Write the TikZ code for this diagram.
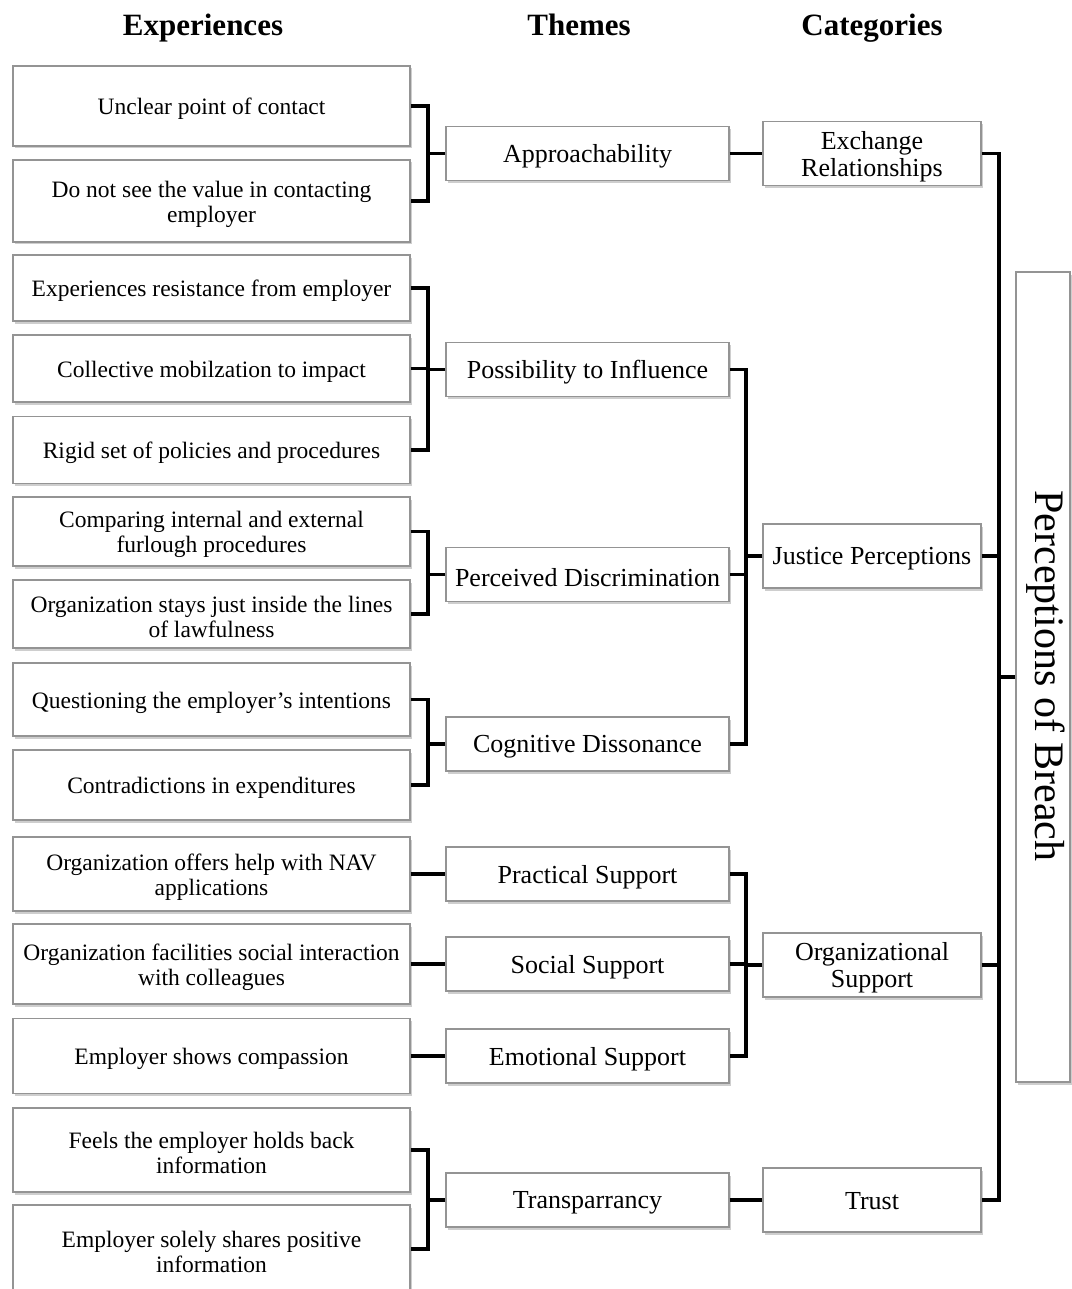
\documentclass[tikz,border=0pt]{standalone}
\usepackage{fontspec}
\setmainfont{Liberation Serif}
\usetikzlibrary{shadows}
\begin{document}
\begin{tikzpicture}[x=1pt,y=-1pt,
  box/.style={draw=black!42, line width=1.3pt, fill=white, inner sep=0pt,
    drop shadow={fill=black!35, opacity=0.55, shadow xshift=1.5pt, shadow yshift=-2.5pt}},
  expbox/.style={box, minimum width=397pt},
  thbox/.style={box, minimum width=283pt, minimum height=54pt},
  catbox/.style={box, minimum width=218pt, minimum height=64pt},
  txt/.style={inner sep=0pt, align=center, yshift=-3pt},
  exptxt/.style={txt, font=\fontsize{23.5}{25}\selectfont},
  thtxt/.style={txt, font=\fontsize{26}{27}\selectfont},
  hdr/.style={anchor=base, font=\fontsize{31}{32}\selectfont\bfseries},
  conn/.style={draw=black, line width=3.2pt}]
\useasboundingbox[fill=white] (0,0) rectangle (1071,1289);

% headers
\node[hdr] (h1) at (203,36) {Experiences};
\node[hdr] (h2) at (579,36) {Themes};
\node[hdr] (h3) at (872,36) {Categories};

% experiences
\node[expbox, minimum height=80pt] (e1) at (211.5,106) {};
\node[exptxt] (e1t) at (e1) {Unclear point of contact};
\node[expbox, minimum height=82pt] (e2) at (211.5,201) {};
\node[exptxt] (e2t) at (e2) {Do not see the value in contacting\\employer};
\node[expbox, minimum height=66pt] (e3) at (211.5,288) {};
\node[exptxt] (e3t) at (e3) {Experiences resistance from employer};
\node[expbox, minimum height=67pt] (e4) at (211.5,368.5) {};
\node[exptxt] (e4t) at (e4) {Collective mobilzation to impact};
\node[expbox, minimum height=67pt] (e5) at (211.5,450) {};
\node[exptxt] (e5t) at (e5) {Rigid set of policies and procedures};
\node[expbox, minimum height=69pt] (e6) at (211.5,531.5) {};
\node[exptxt] (e6t) at (e6) {Comparing internal and external\\furlough procedures};
\node[expbox, minimum height=68pt] (e7) at (211.5,614) {};
\node[exptxt] (e7t) at (e7) {Organization stays just inside the lines\\of lawfulness};
\node[expbox, minimum height=73pt] (e8) at (211.5,699.5) {};
\node[exptxt] (e8t) at (e8) {Questioning the employer's intentions};
\node[expbox, minimum height=70pt] (e9) at (211.5,785) {};
\node[exptxt] (e9t) at (e9) {Contradictions in expenditures};
\node[expbox, minimum height=74pt] (e10) at (211.5,874) {};
\node[exptxt] (e10t) at (e10) {Organization offers help with NAV\\applications};
\node[expbox, minimum height=80pt] (e11) at (211.5,964) {};
\node[exptxt] (e11t) at (e11) {Organization facilities social interaction\\with colleagues};
\node[expbox, minimum height=75pt] (e12) at (211.5,1056) {};
\node[exptxt] (e12t) at (e12) {Employer shows compassion};
\node[expbox, minimum height=84pt] (e13) at (211.5,1150) {};
\node[exptxt] (e13t) at (e13) {Feels the employer holds back\\information};
\node[expbox, minimum height=88pt] (e14) at (211.5,1249) {};
\node[exptxt] (e14t) at (e14) {Employer solely shares positive\\information};

% themes
\node[thbox] (t1) at (587.5,153.5) {};
\node[thtxt] (t1t) at (t1) {Approachability};
\node[thbox] (t2) at (587.5,369.5) {};
\node[thtxt] (t2t) at (t2) {Possibility to Influence};
\node[thbox] (t3) at (587.5,574.5) {};
\node[thtxt] (t3t) at (t3) {Perceived Discrimination};
\node[thbox] (t4) at (587.5,744) {};
\node[thtxt] (t4t) at (t4) {Cognitive Dissonance};
\node[thbox] (t5) at (587.5,874) {};
\node[thtxt] (t5t) at (t5) {Practical Support};
\node[thbox] (t6) at (587.5,964) {};
\node[thtxt] (t6t) at (t6) {Social Support};
\node[thbox] (t7) at (587.5,1056) {};
\node[thtxt] (t7t) at (t7) {Emotional Support};
\node[thbox] (t8) at (587.5,1200) {};
\node[thtxt] (t8t) at (t8) {Transparrancy};

% categories
\node[catbox] (c1) at (872,153.5) {};
\node[thtxt] (c1t) at (c1) {Exchange\\Relationships};
\node[catbox] (c2) at (872,556) {};
\node[thtxt] (c2t) at (c2) {Justice Perceptions};
\node[catbox] (c3) at (872,965) {};
\node[thtxt] (c3t) at (c3) {Organizational\\Support};
\node[catbox] (c4) at (872,1200) {};
\node[thtxt, yshift=2pt] (c4t) at (c4) {Trust};

% perceptions of breach
\node[box, minimum width=54pt, minimum height=810pt] (pb) at (1043,677) {};
\node[rotate=-90, inner sep=0pt, font=\fontsize{42}{44}\selectfont] (pbt) at (1046,676) {Perceptions of Breach};

% bracket coordinates
\coordinate (bl) at (428,0);
\coordinate (bm) at (746,0);
\coordinate (br) at (999,0);

% experiences -> themes
\draw[conn] (e1.east) -- (e1.east -| bl) |- (e2.east);
\draw[conn] (t1.west) -- (t1.west -| bl);
\draw[conn] (e3.east) -- (e3.east -| bl) |- (e5.east);
\draw[conn] (e4.east) -- (e4.east -| bl);
\draw[conn] (t2.west) -- (t2.west -| bl);
\draw[conn] (e6.east) -- (e6.east -| bl) |- (e7.east);
\draw[conn] (t3.west) -- (t3.west -| bl);
\draw[conn] (e8.east) -- (e8.east -| bl) |- (e9.east);
\draw[conn] (t4.west) -- (t4.west -| bl);
\draw[conn] (e10.east) -- (t5.west);
\draw[conn] (e11.east) -- (t6.west);
\draw[conn] (e12.east) -- (t7.west);
\draw[conn] (e13.east) -- (e13.east -| bl) |- (e14.east);
\draw[conn] (t8.west) -- (t8.west -| bl);

% themes -> categories
\draw[conn] (t1.east) -- (t1.east -| c1.west);
\draw[conn] (t2.east) -- (t2.east -| bm) |- (t4.east);
\draw[conn] (t3.east) -- (t3.east -| bm);
\draw[conn] (c2.west) -- (c2.west -| bm);
\draw[conn] (t5.east) -- (t5.east -| bm) |- (t7.east);
\draw[conn] (t6.east) -- (t6.east -| bm);
\draw[conn] (c3.west) -- (c3.west -| bm);
\draw[conn] (t8.east) -- (t8.east -| c4.west);

% categories -> perceptions
\draw[conn] (c1.east) -- (c1.east -| br) |- (c4.east);
\draw[conn] (c2.east) -- (c2.east -| br);
\draw[conn] (c3.east) -- (c3.east -| br);
\draw[conn] (pb.west) -- (pb.west -| br);
\end{tikzpicture}
\end{document}
